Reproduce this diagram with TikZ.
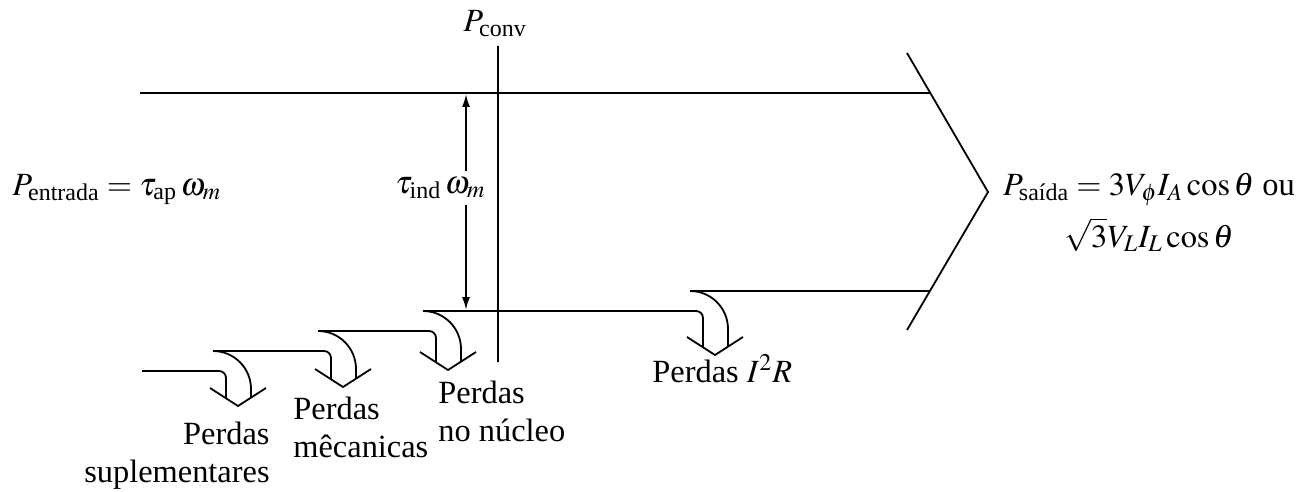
\documentclass[tikz,border=0pt]{standalone}
\usepackage{amsmath}
\usepackage{mathptmx}
\usepackage{fontspec}
\setmainfont{Liberation Serif}
\usetikzlibrary{arrows.meta}
\tikzset{
  ln/.style={line width=0.9pt, line cap=butt, line join=miter},
  lbl/.style={inner sep=0pt, font=\fontsize{16.2}{19}\selectfont},
  tip/.style={-{Latex[length=6.5pt,width=4pt]}},
  pics/lossarrow/.style 2 args={code={
    \draw[ln] (0,0) .. controls (21,0) and (38,17) .. (38,38) -- (38,{#2+9.6});
    \draw[ln, rounded corners=3.5pt] (-#1,20) -- (13,20) -- (13,{#2+10.3});
    \draw[ln] (-3,#2) -- (25,{#2+18}) -- (53,#2);
  }}
}
\begin{document}
\begin{tikzpicture}[x=0.5pt, y=-0.5pt]
\useasboundingbox (0,0) rectangle (1312,492);
% main band
\coordinate (tl) at (140,93);
\coordinate (tr) at (930,93);
\coordinate (c1) at (907,53);
\coordinate (c2) at (988,192);
\coordinate (c3) at (907,330);
\coordinate (br) at (930,291);
\coordinate (b4) at (690,291);
\draw[ln] (tl) -- (tr);
\draw[ln] (c1) -- (c2) -- (c3);
\draw[ln] (b4) -- (br);
% P_conv line
\node[lbl, anchor=base west] (pconv) at (463,32) {$P_{\text{conv}}$};
\coordinate (vt) at (498,46);
\coordinate (vb) at (498,362);
\draw[ln] (vt) -- (vb);
% loss arrows
\pic at (690,291) {lossarrow={267}{46}};
\pic at (423,311) {lossarrow={105}{41}};
\pic at (318,331) {lossarrow={105}{38}};
\pic at (213,351) {lossarrow={71}{37}};
% tau_ind arrow
\coordinate (ta) at (466,94);
\coordinate (tb) at (466,310);
\node[lbl, anchor=base west, inner ysep=3pt] (tind) at (395,193) {$\tau_{\text{ind}}\,\omega_m$};
\draw[ln, tip] (ta |- tind.north) -- (ta);
\draw[ln, tip] (tb |- tind.south) -- (tb);
% labels
\node[lbl, anchor=base west] (pin) at (12,195) {$P_{\text{entrada}} = \tau_{\text{ap}}\,\omega_m$};
\node[lbl, anchor=base, align=center] (pout) at (1149,247) {$P_{\text{saída}} = 3V_{\boldsymbol{\phi}}I_A\cos\theta$ ou\\[5pt] $\sqrt{3}V_LI_L\cos\theta$};
\node[lbl, anchor=base west] (pcu) at (652,382) {Perdas $I^2R$};
\node[lbl, anchor=base west, align=left] (pnuc) at (438,441) {Perdas\\no núcleo};
\node[lbl, anchor=base west, align=left] (pmec) at (293,457) {Perdas\\mêcanicas};
\node[lbl, anchor=base east, align=right] (psup) at (270,482) {Perdas\\suplementares};
\end{tikzpicture}
\end{document}
